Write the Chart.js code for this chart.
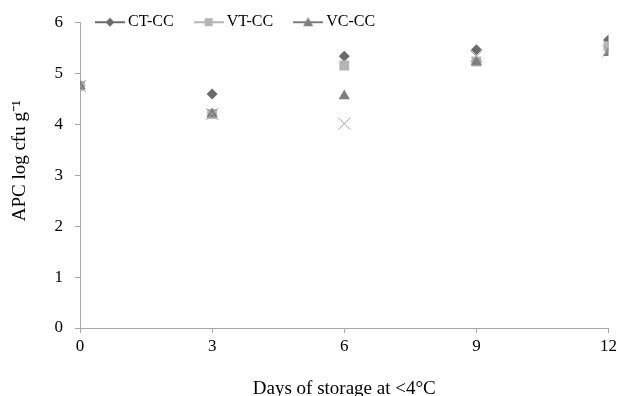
<!DOCTYPE html>
<html>
<head>
<script src="https://cdn.jsdelivr.net/npm/chart.js"></script>
<title>APC during storage</title>
<style>
  html, body { margin: 0; padding: 0; overflow: hidden; background: #fff; }
  .wrap { width: 620px; height: 404px; position: relative; }
</style>
</head>
<body>
<div class="wrap"><canvas id="apcChart"></canvas></div>
<script>
  // values
  const days = [0, 3, 6, 9, 12];
  const ctcc = [4.75, 4.59, 5.33, 5.46, 5.65];
  const vtcc = [4.75, 4.2, 5.15, 5.23, 5.53];
  const vccc = [4.75, 4.2, 4.55, 5.22, 5.4];
  const xcc = [4.75, 4.2, 4.01, 5.33, 5.44];   // 4th series, no legend entry
  const seriesNames = ['CT-CC', 'VT-CC', 'VC-CC', ''];
  const xTicks = [0, 3, 6, 9, 12];
  const yTicks = [0, 1, 2, 3, 4, 5, 6];

  const axisGray = '#a8a8a8';
  const legendPad = 25;
  Chart.defaults.font.family = '"Liberation Serif", "Times New Roman", serif';
  Chart.defaults.color = '#000';

  function toPoints(vals) {
    return days.map((d, i) => ({ x: d, y: vals[i] }));
  }

  // little line+marker pictures for the legend, excel style
  function makeIcon(color, shape) {
    const c = document.createElement('canvas');
    c.width = 30; c.height = 14;
    const g = c.getContext('2d');
    g.strokeStyle = color;
    g.fillStyle = color;
    g.lineWidth = 2;
    g.beginPath(); g.moveTo(0, 7); g.lineTo(30, 7); g.stroke();
    g.beginPath();
    if (shape === 'diamond') {
      g.moveTo(15, 2.5); g.lineTo(19.5, 7); g.lineTo(15, 11.5); g.lineTo(10.5, 7);
    } else if (shape === 'square') {
      g.rect(11, 3, 8, 8);
    } else {
      g.moveTo(15, 2); g.lineTo(20, 11); g.lineTo(10, 11);
    }
    g.closePath();
    g.fill();
    return c;
  }

  const colors = ['#6b6b6b', '#b5b5b5', '#7e7e7e', '#a0a0a0'];
  const legendIcons = [
    makeIcon(colors[0], 'diamond'),
    makeIcon(colors[1], 'square'),
    makeIcon(colors[2], 'triangle')
  ];

  // legend sits on the top line of the plot, like the original
  const legendShift = {
    id: 'legendShift',
    afterLayout(chart) {
      const lg = chart.legend;
      if (!lg) return;
      lg.top = chart.chartArea.top - 8 - legendPad;
      lg.bottom = lg.top + lg.height;
      lg.left = chart.chartArea.left + 20 - legendPad;
    }
  };

  new Chart(document.getElementById('apcChart'), {
    type: 'scatter',
    data: {
      datasets: [
        { label: seriesNames[0], data: toPoints(ctcc), pointStyle: 'rectRot', pointRadius: 5.5,
          backgroundColor: colors[0], borderColor: colors[0], borderWidth: 0, order: 4 },
        { label: seriesNames[1], data: toPoints(vtcc), pointStyle: 'rect', pointRadius: 7,
          backgroundColor: colors[1], borderColor: colors[1], borderWidth: 0, order: 3 },
        { label: seriesNames[2], data: toPoints(vccc), pointStyle: 'triangle', pointRadius: 6.5,
          backgroundColor: colors[2], borderColor: colors[2], borderWidth: 0, order: 2 },
        { label: seriesNames[3], data: toPoints(xcc), pointStyle: 'crossRot', pointRadius: 8.5,
          backgroundColor: colors[3], borderColor: colors[3], borderWidth: 1, order: 1 }
      ]
    },
    options: {
      responsive: true,
      maintainAspectRatio: false,
      animation: false,
      // negative top padding cancels the space the legend box takes
      layout: { padding: { top: 21 - (16 + legendPad + 10), right: 8, left: 0, bottom: 0 } },
      plugins: {
        tooltip: { enabled: false },
        legend: {
          position: 'top',
          align: 'start',
          labels: {
            usePointStyle: true,
            pointStyleWidth: 20,
            padding: legendPad,
            color: '#000',
            font: { size: 16 },
            generateLabels: () => legendIcons.map((icon, i) => ({
              text: seriesNames[i],
              pointStyle: icon,
              fillStyle: colors[i],
              strokeStyle: colors[i],
              lineWidth: 0,
              fontColor: '#000',
              hidden: false,
              datasetIndex: i
            }))
          }
        }
      },
      scales: {
        x: {
          type: 'linear',
          min: 0,
          max: 12,
          afterBuildTicks: s => { s.ticks = xTicks.map(v => ({ value: v })); },
          afterFit: s => { s.height = 76; },
          grid: { drawOnChartArea: false, drawTicks: true, tickLength: 5, color: axisGray },
          border: { color: axisGray, width: 1 },
          ticks: { color: '#000', font: { size: 17 }, padding: 3, maxRotation: 0 },
          title: {
            display: true,
            text: 'Days of storage at <4°C',
            color: '#000',
            font: { size: 19 },
            padding: { top: 20, bottom: 4 }
          }
        },
        y: {
          min: 0,
          max: 6,
          afterBuildTicks: s => { s.ticks = yTicks.map(v => ({ value: v })); },
          afterFit: s => { s.width = 80; },
          grid: { drawOnChartArea: false, drawTicks: true, tickLength: 5, color: axisGray },
          border: { color: axisGray, width: 1 },
          ticks: { color: '#000', font: { size: 17 }, padding: 12 },
          title: {
            display: true,
            // leading spaces nudge the rotated title upward a little
            text: '      APC log cfu g⁻¹',
            color: '#000',
            font: { size: 19 },
            padding: { top: 9, bottom: 0 }
          }
        }
      }
    },
    plugins: [legendShift]
  });
</script>
</body>
</html>
